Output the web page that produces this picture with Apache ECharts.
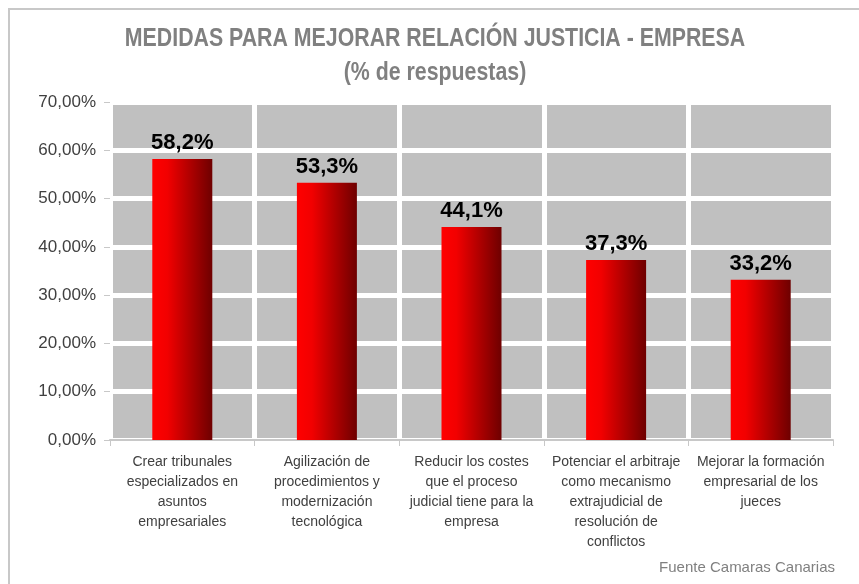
<!DOCTYPE html>
<html>
<head>
<meta charset="utf-8">
<script src="https://cdn.jsdelivr.net/npm/echarts@6/dist/echarts.min.js"></script>
<style>
  html, body { margin: 0; padding: 0; background: #fff; }
  #chart { width: 859px; height: 584px; }
</style>
</head>
<body>
<div id="chart"></div>
<script>
  const titleLines = ['MEDIDAS PARA MEJORAR RELACIÓN JUSTICIA - EMPRESA', '(% de respuestas)'];
  const categories = [
    'Crear tribunales\nespecializados en\nasuntos\nempresariales',
    'Agilización de\nprocedimientos y\nmodernización\ntecnológica',
    'Reducir los costes\nque el proceso\njudicial tiene para la\nempresa',
    'Potenciar el arbitraje\ncomo mecanismo\nextrajudicial de\nresolución de\nconflictos',
    'Mejorar la formación\nempresarial de los\njueces',
  ];
  const values = [58.2, 53.3, 44.1, 37.3, 33.2];
  const sourceText = 'Fuente Camaras Canarias';

  const chart = echarts.init(document.getElementById('chart'));

  // título estilo "Arial Narrow": Liberation Sans negrita comprimida en horizontal
  const titleStyle = {
    fontFamily: '"Liberation Sans", Arial, sans-serif',
    fontWeight: 'bold',
    fontSize: 26,
    fill: '#808080',
    align: 'center',
    verticalAlign: 'middle',
  };

  chart.setOption({
    backgroundColor: '#fff',
    animation: false,
    graphic: [
      {
        type: 'rect',
        shape: { x: 9, y: 9, width: 900, height: 700 },
        style: { fill: 'none', stroke: '#c8c8c8', lineWidth: 2 },
        silent: true,
      },
      {
        type: 'text',
        x: 435,
        y: 39,
        scaleX: 0.82,
        style: { ...titleStyle, text: titleLines[0] },
      },
      {
        type: 'text',
        x: 435,
        y: 73,
        scaleX: 0.82,
        style: { ...titleStyle, text: titleLines[1] },
      },
      {
        type: 'text',
        right: 24,
        top: 560,
        style: {
          text: sourceText,
          fontFamily: '"Liberation Sans", Arial, sans-serif',
          fontSize: 15,
          fill: '#808080',
        },
      },
    ],
    grid: {
      left: 110,
      right: 26,
      top: 102,
      bottom: 144,
      show: true,
      backgroundColor: '#C0C0C0',
      borderWidth: 0,
    },
    xAxis: {
      type: 'category',
      data: categories,
      axisLine: { show: true, lineStyle: { color: '#c8c8c8', width: 2 } },
      axisTick: { show: true, length: 6, lineStyle: { color: '#c8c8c8' } },
      splitLine: { show: true, lineStyle: { color: '#ffffff', width: 5 } },
      axisLabel: {
        interval: 0,
        margin: 12,
        fontFamily: '"Liberation Sans", Arial, sans-serif',
        fontSize: 14,
        lineHeight: 20,
        color: '#404040',
      },
    },
    yAxis: {
      type: 'value',
      min: 0,
      max: 70,
      interval: 10,
      axisLine: { show: false },
      axisTick: { show: true, length: 6, lineStyle: { color: '#c8c8c8' } },
      splitLine: { show: true, lineStyle: { color: '#ffffff', width: 5 } },
      axisLabel: {
        margin: 14,
        fontFamily: '"Liberation Sans", Arial, sans-serif',
        fontSize: 17,
        color: '#404040',
        formatter: (v) => v.toFixed(2).replace('.', ',') + '%',
      },
    },
    series: [
      {
        type: 'bar',
        data: values,
        barWidth: 60,
        itemStyle: {
          color: new echarts.graphic.LinearGradient(0, 0, 1, 0, [
            { offset: 0, color: '#ff0000' },
            { offset: 0.25, color: '#f20000' },
            { offset: 1, color: '#6e0000' },
          ]),
        },
        label: {
          show: true,
          position: 'top',
          distance: 5,
          fontFamily: '"Liberation Sans", Arial, sans-serif',
          fontWeight: 'bold',
          fontSize: 22,
          color: '#000',
          formatter: (p) => p.value.toFixed(1).replace('.', ',') + '%',
        },
      },
    ],
  });
</script>
</body>
</html>
